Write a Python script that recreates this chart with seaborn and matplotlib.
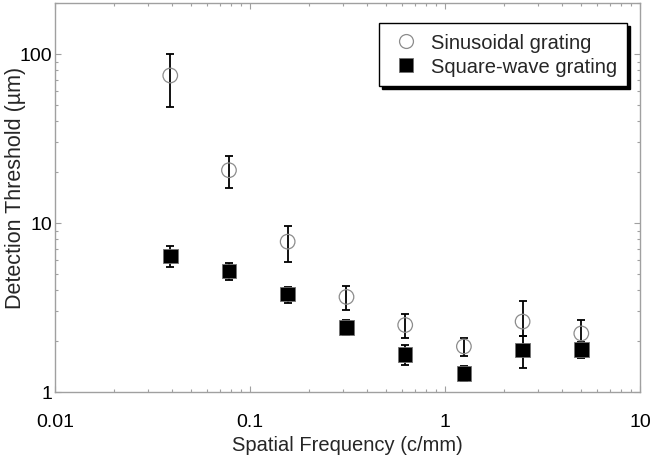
import matplotlib
matplotlib.use("Agg")
import matplotlib.pyplot as plt
import seaborn as sns
import numpy as np
import pandas as pd
from matplotlib.ticker import LogLocator, NullFormatter, FixedLocator, FixedFormatter
from matplotlib.lines import Line2D
from matplotlib.collections import PathCollection

# Data
freq = [0.039, 0.078, 0.156, 0.3125, 0.625, 1.25, 2.5, 5.0]

sin_val = [74.5, 20.5, 7.75, 3.65, 2.49, 1.86, 2.61, 2.22]
sin_hi = [100.0, 24.8, 9.6, 4.24, 2.88, 2.09, 3.44, 2.67]
sin_lo = [48.2, 16.0, 5.9, 3.05, 2.10, 1.63, 2.15, 1.95]

sq_val = [6.37, 5.2, 3.79, 2.41, 1.67, 1.29, 1.77, 1.78]
sq_hi = [7.3, 5.79, 4.2, 2.66, 1.89, 1.43, 2.15, 1.98]
sq_lo = [5.49, 4.62, 3.35, 2.16, 1.45, 1.16, 1.39, 1.58]

series_names = ["Sinusoidal grating", "Square-wave grating"]
x_ticks = [0.01, 0.1, 1, 10]
x_tick_labels = ["0.01", "0.1", "1", "10"]
y_ticks = [1, 10, 100]
y_tick_labels = ["1", "10", "100"]

sns.set_style("white")
plt.rcParams["font.family"] = ["Liberation Sans", "DejaVu Sans"]

fig = plt.figure(figsize=(6.52, 4.56), dpi=100)
ax = fig.add_axes([55 / 652, 1 - 393 / 456, 585 / 652, 389 / 456])

df = pd.DataFrame({
    "freq": freq * 2,
    "val": sin_val + sq_val,
    "series": [series_names[0]] * len(freq) + [series_names[1]] * len(freq),
})

# error bars
for vals, hi, lo in [(sin_val, sin_hi, sin_lo), (sq_val, sq_hi, sq_lo)]:
    v = np.array(vals)
    yerr = np.vstack([v - np.array(lo), np.array(hi) - v])
    ax.errorbar(freq, v, yerr=yerr, fmt="none", ecolor="black",
                elinewidth=1.3, capsize=3, capthick=1.3, zorder=2)

sns.scatterplot(data=df, x="freq", y="val", hue="series", style="series",
                markers={series_names[0]: "o", series_names[1]: "s"},
                palette={series_names[0]: "gray", series_names[1]: "black"},
                s=110, ax=ax, legend=False, zorder=3)

n = len(freq)
pcs = [c for c in ax.collections if isinstance(c, PathCollection)]
for pc in pcs:
    fc = np.array([[1, 1, 1, 0]] * n + [[0, 0, 0, 1]] * n, dtype=float)
    ec = np.array([[0.55, 0.55, 0.55, 1]] * n + [[0.45, 0.45, 0.45, 1]] * n, dtype=float)
    pc.set_facecolors(fc)
    pc.set_edgecolors(ec)
    pc.set_linewidths([0.9] * n + [0.6] * n)

ax.set_xscale("log")
ax.set_yscale("log")
ax.set_xlim(0.01, 10)
ax.set_ylim(1, 200)

ax.xaxis.set_major_locator(FixedLocator(x_ticks))
ax.xaxis.set_major_formatter(FixedFormatter(x_tick_labels))
ax.yaxis.set_major_locator(FixedLocator(y_ticks))
ax.yaxis.set_major_formatter(FixedFormatter(y_tick_labels))
ax.xaxis.set_minor_locator(LogLocator(base=10, subs=np.arange(2, 10)))
ax.yaxis.set_minor_locator(LogLocator(base=10, subs=np.arange(2, 10)))
ax.xaxis.set_minor_formatter(NullFormatter())
ax.yaxis.set_minor_formatter(NullFormatter())

spine_col = "#a0a0a0"
for s in ax.spines.values():
    s.set_visible(True)
    s.set_color(spine_col)
    s.set_linewidth(1.0)

ax.tick_params(axis="both", which="both", direction="in", top=True, right=True,
               bottom=True, left=True, color=spine_col, labelsize=14,
               labelcolor="black")
ax.tick_params(axis="both", which="major", length=4, width=0.8)
ax.tick_params(axis="both", which="minor", length=2.5, width=0.8)
ax.tick_params(axis="x", which="major", pad=15)
ax.tick_params(axis="y", which="major", pad=2)

ax.set_xlabel("Spatial Frequency (c/mm)", fontsize=14.5, labelpad=4)
ax.set_ylabel("Detection Threshold (\u00b5m)", fontsize=15.5)
ax.yaxis.set_label_coords((26 - 55) / 585, (393 - 188) / 389)

# legend
handles = [
    Line2D([], [], linestyle="none", marker="o", markersize=10,
           markerfacecolor="none", markeredgecolor="#8c8c8c", markeredgewidth=0.9),
    Line2D([], [], linestyle="none", marker="s", markersize=10,
           markerfacecolor="black", markeredgecolor="#707070", markeredgewidth=0.6),
]
leg = ax.legend(handles, series_names, loc="upper right",
                bbox_to_anchor=(627 / 652, 1 - 24 / 456),
                bbox_transform=fig.transFigure, fontsize=14.5, frameon=True,
                fancybox=False, shadow={"color": "black", "alpha": 1},
                handletextpad=0.45, borderpad=0.5, labelspacing=0.25,
                handlelength=1.6, borderaxespad=0)
frame = leg.get_frame()
frame.set_edgecolor("black")
frame.set_linewidth(1.0)
frame.set_facecolor("white")
frame.set_alpha(1)
leg.set_zorder(10)

fig.savefig("out.png", dpi=100)
